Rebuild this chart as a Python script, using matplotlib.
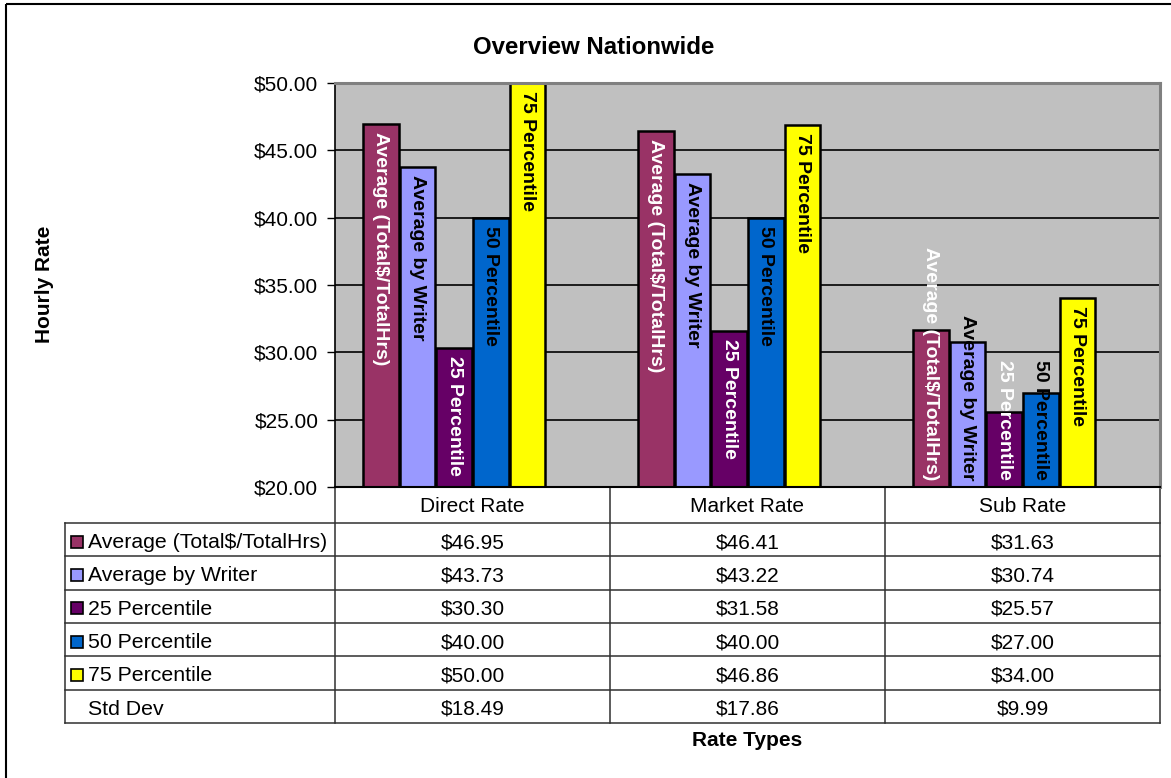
import numpy as np
import matplotlib
matplotlib.use("Agg")
import matplotlib.pyplot as plt
from matplotlib.patches import Rectangle

plt.rcParams['font.family'] = ['Liberation Sans', 'DejaVu Sans']

categories = ["Direct Rate", "Market Rate", "Sub Rate"]
series_names = ["Average (Total$/TotalHrs)", "Average by Writer", "25 Percentile",
                "50 Percentile", "75 Percentile", "Std Dev"]
avg_total = [46.95, 46.41, 31.63]
avg_writer = [43.73, 43.22, 30.74]
p25 = [30.30, 31.58, 25.57]
p50 = [40.00, 40.00, 27.00]
p75 = [50.00, 46.86, 34.00]
std_dev = [18.49, 17.86, 9.99]
yticks = [20, 25, 30, 35, 40, 45, 50]

series_values = [avg_total, avg_writer, p25, p50, p75, std_dev]
colors = ["#993366", "#9999FF", "#660066", "#0066CC", "#FFFF00", "#FF8080"]
label_colors = ["white", "black", "white", "black", "black", None]
show_key = [True, True, True, True, True, False]

W, H = 1171, 778
fig = plt.figure(figsize=(W / 100, H / 100), dpi=100)

# plot area in pixels
L, R, T, B = 335, 1160, 83, 487
ax = fig.add_axes([L / W, 1 - B / H, (R - L) / W, (B - T) / H])
ax.set_facecolor("#C0C0C0")

x = np.arange(len(categories))
n = len(series_values)
bw = 1.0 / (n + 1.5)
ax.set_xlim(-0.5, len(categories) - 0.5)
ax.set_ylim(20, 50)
ax.set_yticks(yticks)
ax.set_yticklabels([f"${v:.2f}" for v in yticks], fontsize=15)
ax.set_xticks([])
ax.tick_params(axis='y', length=6, width=1, direction='out', pad=6, color='black')
for yv in yticks[1:-1]:
    ax.axhline(yv, color='black', linewidth=1.2, zorder=1)

bars = []
for i, (vals, c) in enumerate(zip(series_values, colors)):
    b = ax.bar(x + (i - (n - 1) / 2) * bw, vals, bw * 0.97, color=c,
               edgecolor='black', linewidth=1.8, zorder=2)
    bars.append(b)

for side in ['top', 'right']:
    ax.spines[side].set_color('#808080')
    ax.spines[side].set_linewidth(2.2)
ax.spines['left'].set_color('black')
ax.spines['left'].set_linewidth(1.2)
ax.spines['bottom'].set_color('black')
ax.spines['bottom'].set_linewidth(1.5)

# bar labels (rotated, inside end)
texts = []
for i, vals in enumerate(series_values):
    if label_colors[i] is None:
        continue
    for j, v in enumerate(vals):
        if v <= 20:
            continue
        xc = j + (i - (n - 1) / 2) * bw
        t = ax.text(xc, v, series_names[i], rotation=-90, ha='center', va='top',
                    fontsize=14, fontweight='bold', color=label_colors[i], zorder=5,
                    clip_on=False)
        texts.append((t, xc, v))

fig.canvas.draw()
renderer = fig.canvas.get_renderer()
ax_bottom_disp = ax.transData.transform((0, 20))[1]
for t, xc, v in texts:
    top_disp = ax.transData.transform((xc, v))[1] - 8
    t.set_position((xc, ax.transData.inverted().transform((0, top_disp))[1]))
    bb = t.get_window_extent(renderer)
    if bb.y0 < ax_bottom_disp + 7:
        top_disp += (ax_bottom_disp + 7 - bb.y0)
        t.set_position((xc, ax.transData.inverted().transform((0, top_disp))[1]))

# overlay for table, titles, frame (pixel coordinates)
ov = fig.add_axes([0, 0, 1, 1], zorder=-1)
ov.set_xlim(0, W)
ov.set_ylim(H, 0)
ov.axis('off')
ov.patch.set_alpha(0)

ov.add_patch(Rectangle((6, 4), W + 50, H + 50, fill=False, edgecolor='black', linewidth=1.5))

fig.text(593.5 / W, 1 - 48 / H, "Overview Nationwide", ha='center', va='center',
         fontsize=17.3, fontweight='bold')
fig.text(45 / W, 1 - 284 / H, "Hourly Rate", ha='center', va='center', rotation=90,
         fontsize=15, fontweight='bold')
fig.text(747 / W, 1 - 741 / H, "Rate Types", ha='center', va='center',
         fontsize=15, fontweight='bold')

# data table
lc = '#303030'
col_w = (R - L) / len(categories)
col_edges = [L + k * col_w for k in range(len(categories) + 1)]
header_bottom = 523
row_h = 33.33
nrows = len(series_names)
table_bottom = header_bottom + nrows * row_h
tleft = 65
for xe in col_edges:
    ov.plot([xe, xe], [B, table_bottom], color=lc, linewidth=1.1)
ov.plot([tleft, tleft], [header_bottom, table_bottom], color=lc, linewidth=1.1)
for r in range(nrows + 1):
    yy = header_bottom + r * row_h
    ov.plot([tleft, R], [yy, yy], color=lc, linewidth=1.1)

for j, cat in enumerate(categories):
    ov.text(col_edges[j] + col_w / 2, (B + header_bottom) / 2 + 1, cat, ha='center',
            va='center', fontsize=15)

for r, (name, vals) in enumerate(zip(series_names, series_values)):
    yc = header_bottom + (r + 0.5) * row_h + 3
    if show_key[r]:
        ov.add_patch(Rectangle((71, yc - 7), 12, 12, facecolor=colors[r],
                               edgecolor='black', linewidth=1.2))
    ov.text(88, yc, name, ha='left', va='center', fontsize=15.3)
    for j, v in enumerate(vals):
        ov.text(col_edges[j] + col_w / 2, yc, f"${v:.2f}", ha='center', va='center',
                fontsize=15)

fig.savefig("out.png", dpi=100)
